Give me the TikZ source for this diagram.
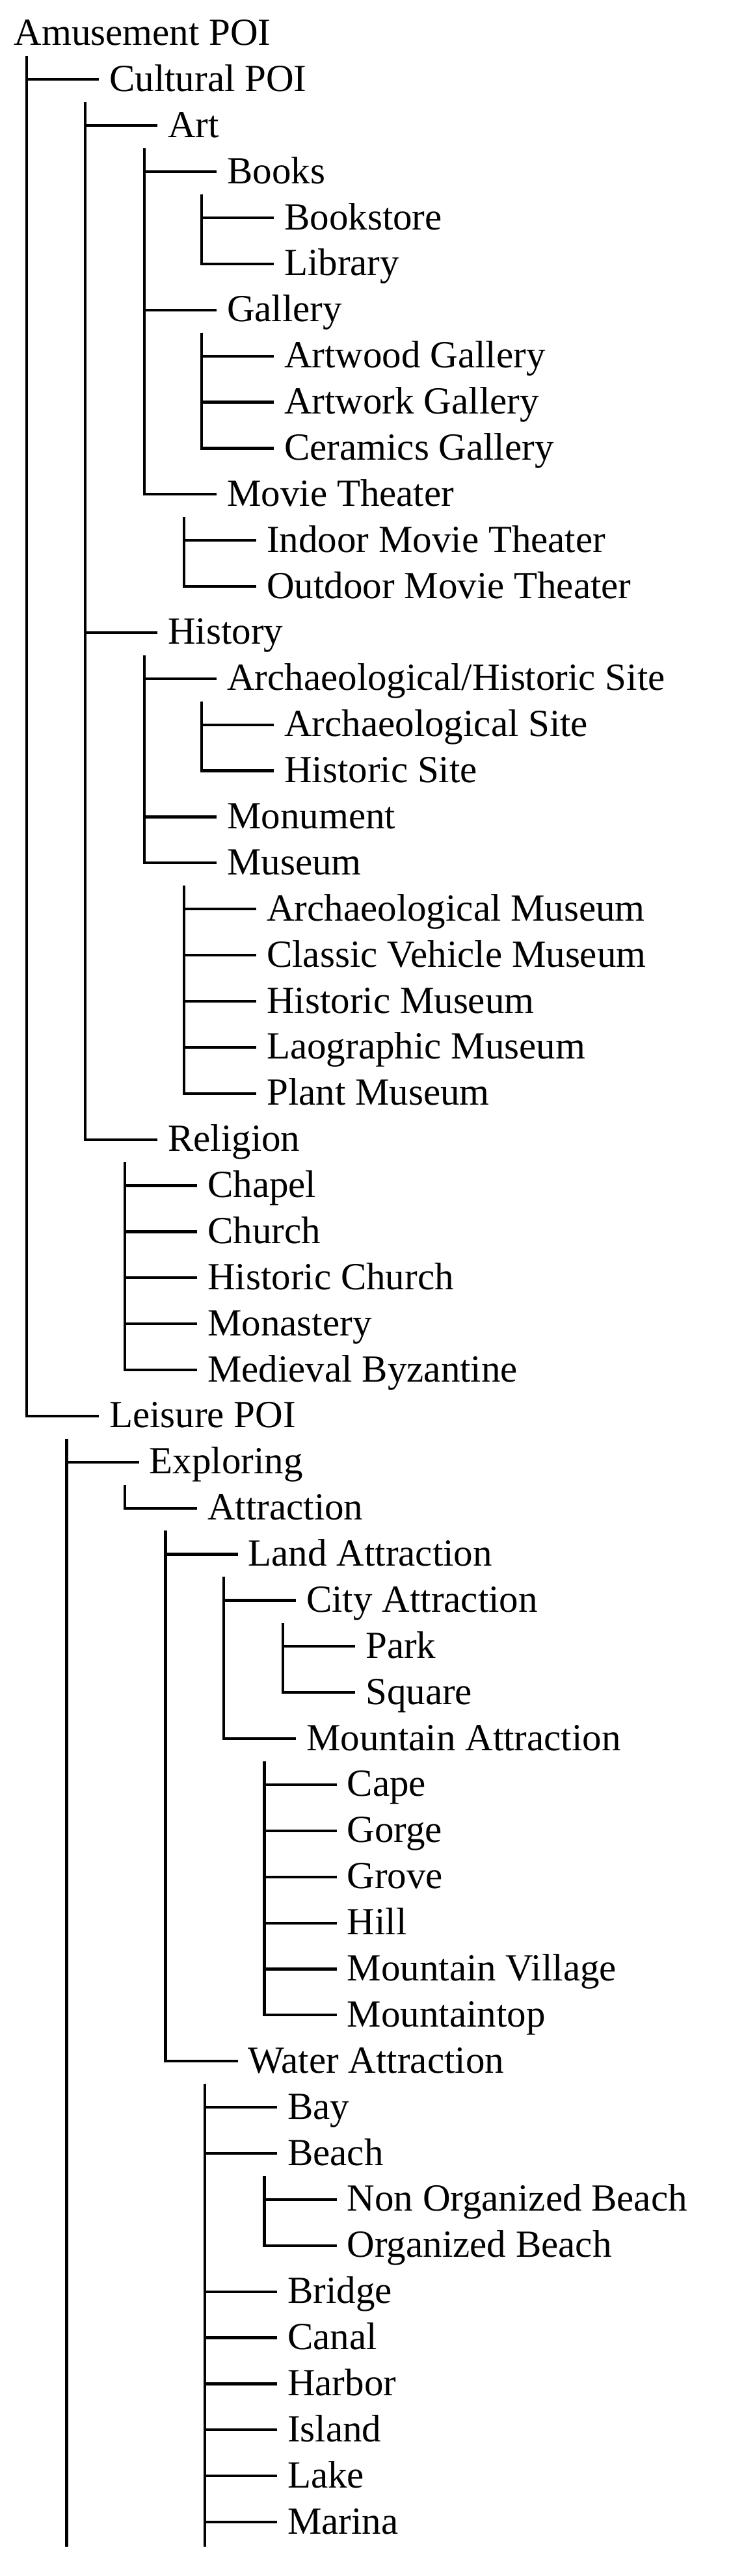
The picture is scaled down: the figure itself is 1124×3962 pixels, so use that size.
\documentclass[tikz,border=0pt]{standalone}
\usepackage{fontspec}
\setmainfont{Liberation Serif}
\usetikzlibrary{positioning}

\tikzset{
  item/.style={anchor=west, inner xsep=16pt, inner ysep=0pt,
    text height=44pt, text depth=8pt, font=\fontsize{59}{70}\selectfont},
  branch/.style={line width=4.2pt}
}

\begin{document}
\begin{tikzpicture}[x=1pt, y=-70.88pt]
  \useasboundingbox (0pt,0pt) rectangle (1124pt,-3962pt);
  \begin{scope}[yshift=-51.5pt]
    % root
    \node[item] (amusement) at (5.5,0) {Amusement POI};
    \coordinate (v-amusement) at (41,0.49);
    \node[item] (cultural) at (152,1) {Cultural POI};
    \node[item] (leisure) at (152,30) {Leisure POI};
    \draw[branch] (v-amusement) |- (cultural.west);
    \draw[branch] (v-amusement) |- (leisure.west);

    % Cultural POI
    \coordinate (v-cultural) at (131,1.49);
    \node[item] (art) at (242,2) {Art};
    \node[item] (history) at (242,13) {History};
    \node[item] (religion) at (242,24) {Religion};
    \foreach \n in {art,history,religion}
      \draw[branch] (v-cultural) |- (\n.west);

    % Art
    \coordinate (v-art) at (222,2.49);
    \node[item] (books) at (333,3) {Books};
    \node[item] (gallery) at (333,6) {Gallery};
    \node[item] (movie) at (333,10) {Movie Theater};
    \foreach \n in {books,gallery,movie}
      \draw[branch] (v-art) |- (\n.west);

    \coordinate (v-books) at (310,3.49);
    \node[item] (bookstore) at (421,4) {Bookstore};
    \node[item] (library) at (421,5) {Library};
    \foreach \n in {bookstore,library}
      \draw[branch] (v-books) |- (\n.west);

    \coordinate (v-gallery) at (310,6.49);
    \foreach \n/\t [count=\i from 7] in {artwood/Artwood Gallery, artwork/Artwork Gallery, ceramics/Ceramics Gallery} {
      \node[item] (\n) at (421,\i) {\t};
      \draw[branch] (v-gallery) |- (\n.west);
    }

    \coordinate (v-movie) at (283,10.49);
    \node[item] (indoor) at (394,11) {Indoor Movie Theater};
    \node[item] (outdoor) at (394,12) {Outdoor Movie Theater};
    \foreach \n in {indoor,outdoor}
      \draw[branch] (v-movie) |- (\n.west);

    % History
    \coordinate (v-history) at (222,13.49);
    \node[item] (archsite) at (333,14) {Archaeological/Historic Site};
    \node[item] (monument) at (333,17) {Monument};
    \node[item] (museum) at (333,18) {Museum};
    \foreach \n in {archsite,monument,museum}
      \draw[branch] (v-history) |- (\n.west);

    \coordinate (v-archsite) at (310,14.49);
    \node[item] (archaeosite) at (421,15) {Archaeological Site};
    \node[item] (historicsite) at (421,16) {Historic Site};
    \foreach \n in {archaeosite,historicsite}
      \draw[branch] (v-archsite) |- (\n.west);

    \coordinate (v-museum) at (283,18.49);
    \foreach \n/\t [count=\i from 19] in {archmuseum/Archaeological Museum, vehiclemuseum/Classic Vehicle Museum, historicmuseum/Historic Museum, laomuseum/Laographic Museum, plantmuseum/Plant Museum} {
      \node[item] (\n) at (394,\i) {\t};
      \draw[branch] (v-museum) |- (\n.west);
    }

    % Religion
    \coordinate (v-religion) at (192,24.49);
    \foreach \n/\t [count=\i from 25] in {chapel/Chapel, church/Church, hchurch/Historic Church, monastery/Monastery, byzantine/Medieval Byzantine} {
      \node[item] (\n) at (303,\i) {\t};
      \draw[branch] (v-religion) |- (\n.west);
    }

    % Leisure POI
    \coordinate (v-leisure) at (102.5,30.49);
    \coordinate (e-leisure) at (102.5,54.54);
    \node[item] (exploring) at (213.5,31) {Exploring};
    \draw[branch] (v-leisure) |- (exploring.west);
    \draw[branch] (v-leisure) -- (e-leisure);

    \coordinate (v-exploring) at (192,31.49);
    \node[item] (attraction) at (303,32) {Attraction};
    \draw[branch] (v-exploring) |- (attraction.west);

    \coordinate (v-attraction) at (254.5,32.49);
    \node[item] (land) at (365.5,33) {Land Attraction};
    \node[item] (water) at (365.5,44) {Water Attraction};
    \foreach \n in {land,water}
      \draw[branch] (v-attraction) |- (\n.west);

    \coordinate (v-land) at (344,33.49);
    \node[item] (city) at (455,34) {City Attraction};
    \node[item] (mountain) at (455,37) {Mountain Attraction};
    \foreach \n in {city,mountain}
      \draw[branch] (v-land) |- (\n.west);

    \coordinate (v-city) at (435,34.49);
    \node[item] (park) at (546,35) {Park};
    \node[item] (square) at (546,36) {Square};
    \foreach \n in {park,square}
      \draw[branch] (v-city) |- (\n.west);

    \coordinate (v-mountain) at (406.5,37.49);
    \foreach \n/\t [count=\i from 38] in {cape/Cape, gorge/Gorge, grove/Grove, hill/Hill, mvillage/Mountain Village, mtop/Mountaintop} {
      \node[item] (\n) at (517.5,\i) {\t};
      \draw[branch] (v-mountain) |- (\n.west);
    }

    % Water Attraction
    \coordinate (v-water) at (315,44.49);
    \coordinate (e-water) at (315,54.54);
    \draw[branch] (v-water) -- (e-water);
    \node[item] (bay) at (426,45) {Bay};
    \node[item] (beach) at (426,46) {Beach};
    \foreach \n in {bay,beach}
      \draw[branch] (v-water) |- (\n.west);
    \foreach \n/\t [count=\i from 49] in {bridge/Bridge, canal/Canal, harbor/Harbor, island/Island, lake/Lake, marina/Marina} {
      \node[item] (\n) at (426,\i) {\t};
      \draw[branch] (v-water) |- (\n.west);
    }

    \coordinate (v-beach) at (406.5,46.49);
    \node[item] (nonorganized) at (517.5,47) {Non Organized Beach};
    \node[item] (organized) at (517.5,48) {Organized Beach};
    \foreach \n in {nonorganized,organized}
      \draw[branch] (v-beach) |- (\n.west);
  \end{scope}
\end{tikzpicture}
\end{document}
